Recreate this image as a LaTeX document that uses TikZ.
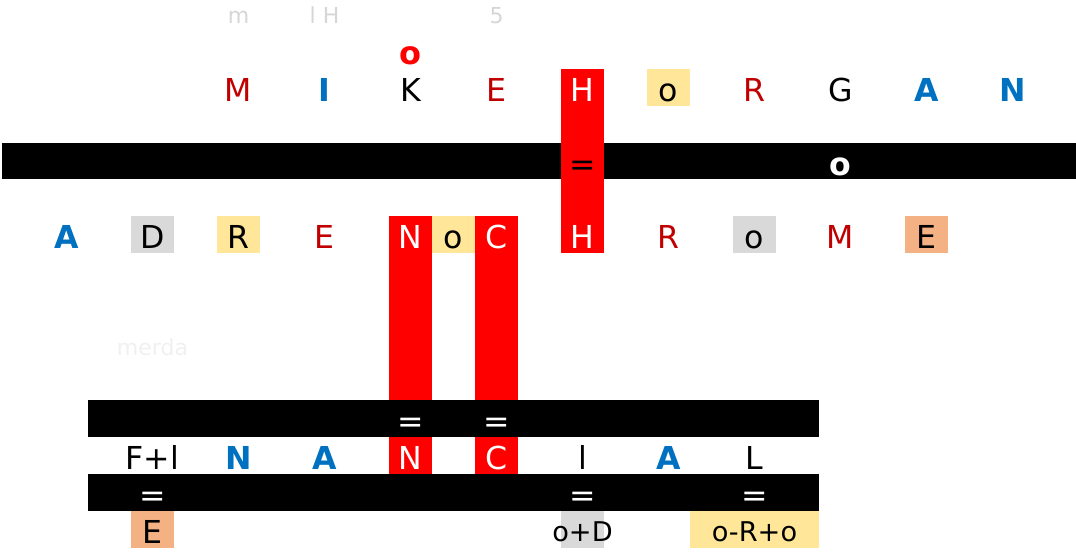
\documentclass[tikz,border=0pt]{standalone}
\usepackage{fontspec}
\setmainfont{DejaVu Sans}
\definecolor{darkred}{RGB}{192,0,0}
\definecolor{cellblue}{RGB}{0,112,192}
\definecolor{cellred}{RGB}{255,0,0}
\definecolor{cellyellow}{RGB}{255,230,153}
\definecolor{cellgrey}{RGB}{217,217,217}
\definecolor{cellorange}{RGB}{244,177,131}
\definecolor{ghost}{RGB}{214,214,214}
\definecolor{faint}{RGB}{240,240,240}
% grid: columns 43px wide, rows 36.83px high
\newcommand{\cellrect}[4]{({2+43*#1},{-4.66+36.83*#2}) rectangle ({2+43*(#3+1)},{-4.66+36.83*(#4+1)})}
\newcommand{\cellbase}[2]{({2+43*(#1+0.5)},{-4.66+36.83*#2+32.5})}
\tikzset{
  txt/.style={anchor=base,inner sep=0pt,font=\fontsize{15.8}{18}\selectfont},
  blacktxt/.style={txt,text=black},
  redtxt/.style={txt,text=darkred},
  whitetxt/.style={txt,text=white},
  bluetxt/.style={txt,text=cellblue,font=\fontsize{15.8}{18}\selectfont\bfseries},
  boldwhite/.style={txt,text=white,font=\fontsize{15.8}{18}\selectfont\bfseries},
  boldred/.style={txt,text=cellred,font=\fontsize{16}{18}\selectfont\bfseries},
  smalltxt/.style={txt,text=black,font=\fontsize{13.6}{15}\selectfont},
  ghosttxt/.style={anchor=base,inner sep=0pt,text=ghost,font=\fontsize{11}{13}\selectfont}
}

\begin{document}
\begin{tikzpicture}[x=0.5pt,y=-0.5pt]
  \useasboundingbox (0,0) rectangle (1076,555);
  % black bars
  \fill[black] \cellrect{0}{4}{24}{4};
  \fill[black] \cellrect{2}{11}{18}{11};
  \fill[black] \cellrect{2}{13}{18}{13};
  % red columns
  \fill[cellred] \cellrect{13}{2}{13}{6};
  \fill[cellred] \cellrect{9}{6}{9}{10};
  \fill[cellred] \cellrect{11}{6}{11}{10};
  \fill[cellred] \cellrect{9}{12}{9}{12};
  \fill[cellred] \cellrect{11}{12}{11}{12};
  % shaded cells
  \foreach \c/\r in {15/2,5/6,10/6}
    \fill[cellyellow] \cellrect{\c}{\r}{\c}{\r};
  \fill[cellyellow] \cellrect{16}{14}{18}{14};
  \foreach \c/\r in {3/6,17/6,13/14}
    \fill[cellgrey] \cellrect{\c}{\r}{\c}{\r};
  \foreach \c/\r in {21/6,3/14}
    \fill[cellorange] \cellrect{\c}{\r}{\c}{\r};

  % faint labels
  \node[ghosttxt] (ghostm) at ({2+43*5.5},24) {m};
  \node[ghosttxt] (ghostlh) at ({2+43*7.5},24) {l H};
  \node[ghosttxt] (ghostfive) at ({2+43*11.5},24) {5};
  \node[ghosttxt,text=faint] (merda) at ({2+43*3.5},356) {merda};
  \node[boldred] (redo) at \cellbase{9}{1} {o};

  % first word
  \foreach \c/\t/\s [count=\i] in {5/M/redtxt,7/I/bluetxt,9/K/blacktxt,11/E/redtxt,13/H/whitetxt,
      15/o/blacktxt,17/R/redtxt,19/G/blacktxt,21/A/bluetxt,23/N/bluetxt}
    \node[\s] (mike\i) at \cellbase{\c}{2} {\t};

  % top bar
  \node[blacktxt] (eqtop) at \cellbase{13}{4} {=};
  \node[boldwhite] (bartop) at \cellbase{19}{4} {o};

  % second word
  \foreach \c/\t/\s [count=\i] in {1/A/bluetxt,3/D/blacktxt,5/R/blacktxt,7/E/redtxt,9/N/whitetxt,
      10/o/blacktxt,11/C/whitetxt,13/H/whitetxt,15/R/redtxt,17/o/blacktxt,19/M/redtxt,21/E/blacktxt}
    \node[\s] (adre\i) at \cellbase{\c}{6} {\t};

  % lower bars
  \foreach \c [count=\i] in {9,11}
    \node[whitetxt] (eqmid\i) at \cellbase{\c}{11} {=};
  \foreach \c/\t/\s [count=\i] in {3/F+l/blacktxt,5/N/bluetxt,7/A/bluetxt,9/N/whitetxt,
      11/C/whitetxt,13/l/blacktxt,15/A/bluetxt,17/L/blacktxt}
    \node[\s] (fina\i) at \cellbase{\c}{12} {\t};
  \foreach \c [count=\i] in {3,13,17}
    \node[whitetxt] (eqlow\i) at \cellbase{\c}{13} {=};

  % results
  \node[blacktxt] (resE) at \cellbase{3}{14} {E};
  \node[smalltxt] (resoD) at ({2+43*13.5},{-4.66+36.83*14+31}) {o+D};
  \node[smalltxt] (resoRo) at ({2+43*17.5},{-4.66+36.83*14+31}) {o-R+o};
\end{tikzpicture}
\end{document}
